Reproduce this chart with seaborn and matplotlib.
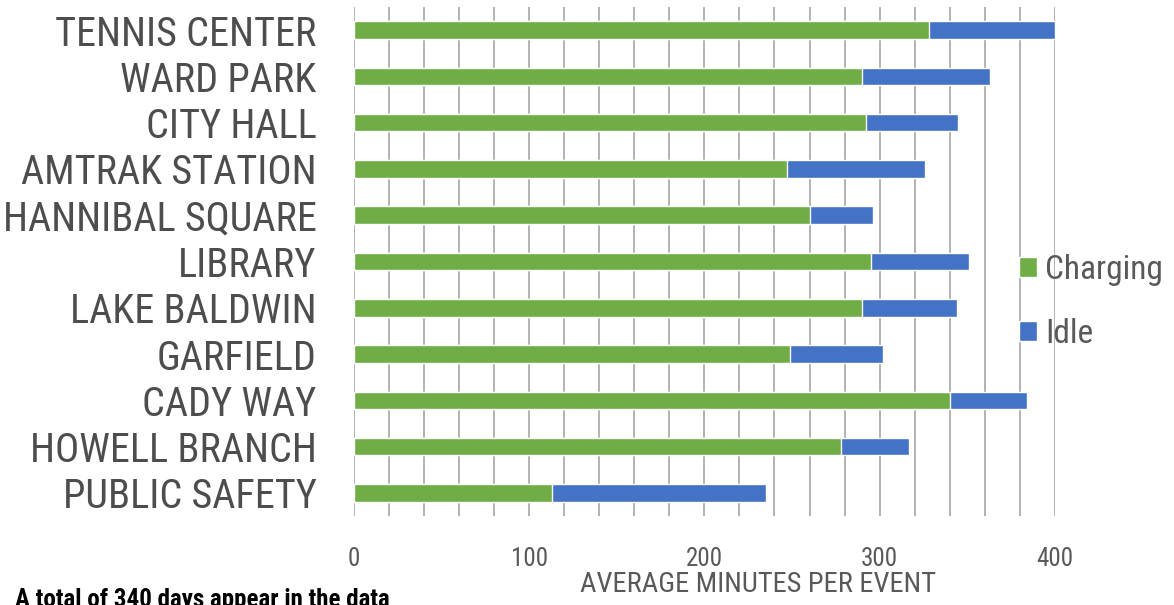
import matplotlib
matplotlib.use("Agg")
import matplotlib.pyplot as plt
import seaborn as sns
import pandas as pd
from matplotlib.patches import Patch

stations = [
    "TENNIS CENTER", "WARD PARK", "CITY HALL", "AMTRAK STATION",
    "HANNIBAL SQUARE", "LIBRARY", "LAKE BALDWIN", "GARFIELD",
    "CADY WAY", "HOWELL BRANCH", "PUBLIC SAFETY",
]
charging = [328, 290, 292, 247, 260, 295, 290, 249, 340, 278, 113]
idle = [72, 73, 53, 79, 36, 56, 54, 53, 44, 39, 122]
x_ticks = [0, 100, 200, 300, 400]

df = pd.DataFrame({"station": stations, "charging": charging, "idle": idle})
df["total"] = df["charging"] + df["idle"]

GREEN = "#70AD47"
BLUE = "#4472C4"
TEXT = "#595959"

sns.set_style("white")
plt.rcParams["font.family"] = ["Liberation Sans Narrow", "Roboto Condensed",
                               "Archivo Narrow", "DejaVu Sans"]

fig = plt.figure(figsize=(11.74, 6.05), dpi=100)
ax = fig.add_axes([0.3015, 0.147, 0.597, 0.8416])

# stacked horizontal bars: full length in blue, charging portion over it in green
sns.barplot(data=df, x="total", y="station", color=BLUE, width=0.38,
            saturation=1, ax=ax, zorder=3)
sns.barplot(data=df, x="charging", y="station", color=GREEN, width=0.38,
            saturation=1, ax=ax, zorder=4)

ax.set_xlim(0, 400)
ax.set_ylim(10.5, -0.5)
for x in range(0, 401, 20):
    ax.axvline(x, color="#ADADAD", lw=1.3, zorder=1)
ax.set_xticks(x_ticks)
ax.set_xticklabels([str(t) for t in x_ticks], fontsize=18, color=TEXT)
ax.tick_params(axis="x", length=0, pad=22)
ax.tick_params(axis="y", length=0, pad=27, labelsize=29, labelcolor="#4D4D4D")
ax.set_ylabel("")
ax.set_xlabel("AVERAGE MINUTES PER EVENT", fontsize=20.5, color=TEXT,
              labelpad=0, x=0.576)
for s in ax.spines.values():
    s.set_visible(False)

handles = [Patch(facecolor=GREEN, label="Charging"),
           Patch(facecolor=BLUE, label="Idle")]
fig.legend(handles=handles, loc="upper left", bbox_to_anchor=(0.842, 0.63),
           frameon=False, fontsize=24, handlelength=0.55, handleheight=0.55,
           handletextpad=0.25, labelspacing=0.95, labelcolor=TEXT)

fig.text(15 / 1174, 1 - 588 / 605, "A total of 340 days appear in the data",
         fontsize=18, fontweight="bold", color="black", va="top", ha="left")

fig.savefig("out.png", dpi=100)
